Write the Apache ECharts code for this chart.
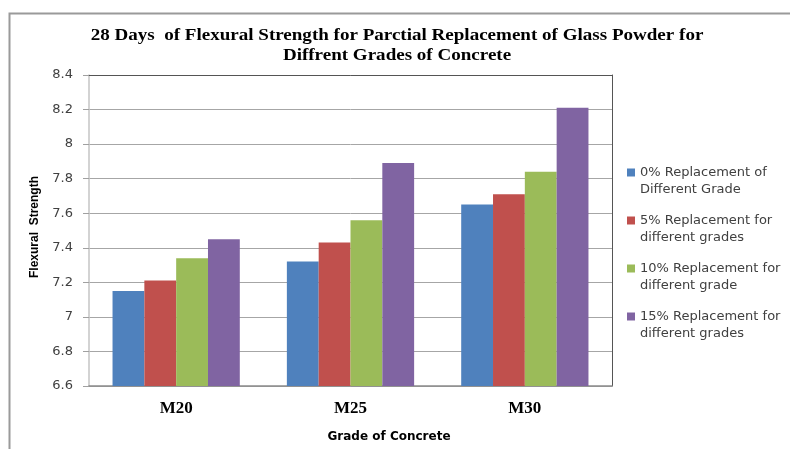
<!DOCTYPE html>
<html>
<head>
<meta charset="utf-8">
<script src="https://cdn.jsdelivr.net/npm/echarts@6/dist/echarts.min.js"></script>
<style>
  html, body { margin: 0; padding: 0; background: #fff; }
  #chart { width: 790px; height: 449px; }
</style>
</head>
<body>
<div id="chart"></div>
<script>
// Concrete grades on the category axis
const grades = ['M20', 'M25', 'M30'];

// Glass powder replacement levels (legend entries)
const seriesNames = [
  '0% Replacement of\nDifferent Grade',
  '5% Replacement for\ndifferent grades',
  '10% Replacement for\ndifferent grade',
  '15% Replacement for\ndifferent grades'
];

// 28-day flexural strength per grade
const rep0  = [7.15, 7.32, 7.65];
const rep5  = [7.21, 7.43, 7.71];
const rep10 = [7.34, 7.56, 7.84];
const rep15 = [7.45, 7.89, 8.21];

const seriesValues = [rep0, rep5, rep10, rep15];
const seriesColors = ['#4F81BD', '#C0504D', '#9BBB59', '#8064A2'];

// Value axis range
const yMin = 6.6, yMax = 8.4, yStep = 0.2;

const chartTitle = '28 Days  of Flexural Strength for Parctial Replacement of Glass Powder for\nDiffrent Grades of Concrete';

const chart = echarts.init(document.getElementById('chart'), null, { renderer: 'canvas' });

const option = {
  animation: false,
  backgroundColor: '#ffffff',
  graphic: [
    {
      type: 'rect',
      left: 7, top: 11,
      shape: { width: 820, height: 480 },
      style: { fill: 'none', stroke: '#9a9a9a', lineWidth: 2 },
      silent: true
    },
    {
      // chart title, slightly widened
      type: 'text',
      x: 397, y: 46,
      scaleX: 1.12,
      style: {
        text: chartTitle,
        align: 'center', verticalAlign: 'middle',
        font: 'bold 17px "Liberation Serif"',
        lineHeight: 20,
        fill: '#000'
      }
    },
    {
      type: 'text',
      x: 389, y: 437,
      style: {
        text: 'Grade of Concrete',
        align: 'center', verticalAlign: 'middle',
        font: 'bold 12px "DejaVu Sans"',
        fill: '#000'
      }
    },
    {
      type: 'text',
      rotation: Math.PI / 2,
      x: 35, y: 227,
      style: {
        text: 'Flexural  Strength',
        align: 'center', verticalAlign: 'middle',
        font: 'bold 12px "Liberation Sans"',
        fill: '#000'
      }
    }
  ],
  legend: {
    orient: 'vertical',
    left: 622,
    top: 142,
    itemWidth: 8,
    itemHeight: 8,
    itemGap: -3,
    icon: 'rect',
    data: seriesNames,
    // a blank first line keeps the marker level with the first text line
    formatter: name => ' \n' + name,
    textStyle: {
      fontFamily: 'DejaVu Sans',
      fontSize: 13,
      lineHeight: 17,
      color: '#404040'
    }
  },
  grid: {
    left: 89,
    right: 178,
    top: 75,
    bottom: 63,
    containLabel: false
  },
  xAxis: [
    {
      type: 'category',
      data: grades,
      axisLine: { lineStyle: { color: '#8c8c8c', width: 1.5 } },
      axisTick: { show: false },
      axisLabel: {
        margin: 14,
        fontFamily: 'Liberation Serif',
        fontWeight: 'bold',
        fontSize: 17,
        color: '#000'
      }
    },
    {
      type: 'category',
      data: grades,
      position: 'top',
      axisLine: { lineStyle: { color: '#555', width: 1 } },
      axisTick: { show: false },
      axisLabel: { show: false }
    }
  ],
  yAxis: [
    {
      type: 'value',
      min: yMin,
      max: yMax,
      interval: yStep,
      axisLine: { show: true, lineStyle: { color: '#c4c4c4', width: 1.5 } },
      axisTick: { show: true, length: 6, lineStyle: { color: '#a0a0a0' } },
      splitLine: { lineStyle: { color: '#a6a6a6', width: 1 } },
      axisLabel: {
        margin: 16,
        fontFamily: 'DejaVu Sans',
        fontSize: 13,
        color: '#404040',
        formatter: v => String(Number(v.toFixed(1)))
      }
    },
    {
      type: 'value',
      min: yMin,
      max: yMax,
      interval: yStep,
      position: 'right',
      axisLine: { show: true, lineStyle: { color: '#555', width: 1 } },
      axisTick: { show: false },
      splitLine: { show: false },
      axisLabel: { show: false }
    }
  ],
  series: seriesNames.map((name, i) => ({
    name,
    type: 'bar',
    data: seriesValues[i],
    barGap: '0%',
    barCategoryGap: '27%',
    itemStyle: { color: seriesColors[i] }
  }))
};

chart.setOption(option);
</script>
</body>
</html>
